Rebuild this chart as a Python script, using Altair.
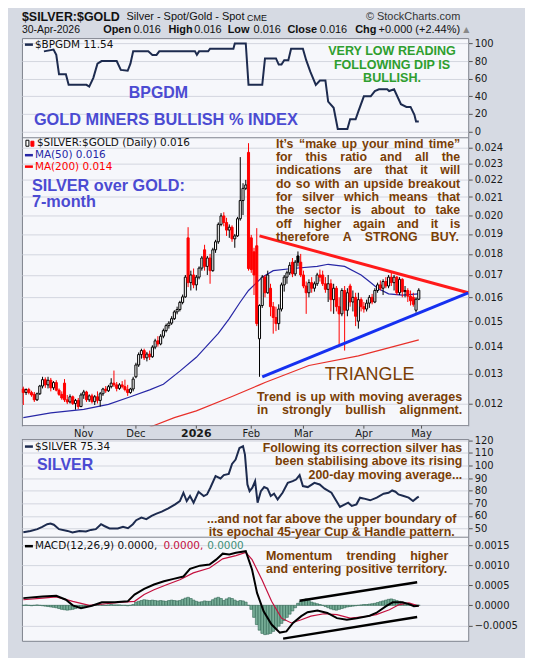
import altair as alt
import numpy as np
import pandas as pd

# ----------------------------------------------------------------- data
# x = trading-day index (1 = 1-Oct-2025 ... 145 = 30-Apr-2026)
month_ticks = [23, 42, 64, 84, 103, 125, 146]
month_labels = ["Nov", "Dec", "2026", "Feb", "Mar", "Apr", "May"]

opens = [1248e-5, 1236e-5, 1246e-5, 1236e-5, 1230e-5, 1212e-5, 1232e-5, 1258e-5, 1280e-5, 1262e-5, 1278e-5, 1252e-5, 1270e-5, 1244e-5, 1230e-5, 1268e-5, 1212e-5, 1205e-5, 1222e-5, 1200e-5, 1210e-5, 1190e-5,
         1228e-5, 1238e-5, 1212e-5, 1225e-5, 1206e-5, 1222e-5, 1210e-5, 1232e-5, 1248e-5, 1242e-5, 1256e-5, 1268e-5, 1262e-5, 1250e-5, 1262e-5, 1256e-5, 1246e-5, 1236e-5, 1248e-5,
         1290e-5, 1332e-5, 1370e-5, 1385e-5, 1358e-5, 1372e-5, 1362e-5, 1398e-5, 1422e-5, 1410e-5, 1440e-5, 1462e-5, 1482e-5, 1492e-5, 1510e-5, 1538e-5, 1548e-5, 1578e-5, 1602e-5, 1880e-5, 1665e-5, 1700e-5,
         1655e-5, 1690e-5, 1732e-5, 1820e-5, 1740e-5, 1780e-5, 1720e-5, 1820e-5, 1860e-5, 1950e-5, 1995e-5, 1960e-5, 1920e-5, 1935e-5, 1875e-5, 1890e-5, 1980e-5, 2080e-5, 2150e-5, 2370e-5,
         1880e-5, 1810e-5, 1840e-5, 1430e-5, 1565e-5, 1690e-5, 1620e-5, 1640e-5, 1560e-5, 1515e-5, 1490e-5, 1550e-5, 1655e-5, 1690e-5, 1710e-5, 1760e-5, 1705e-5, 1790e-5, 1760e-5,
         1700e-5, 1650e-5, 1620e-5, 1665e-5, 1640e-5, 1660e-5, 1700e-5, 1700e-5, 1660e-5, 1635e-5, 1660e-5, 1590e-5, 1640e-5, 1560e-5, 1530e-5, 1630e-5, 1545e-5, 1650e-5, 1580e-5, 1600e-5, 1500e-5, 1590e-5,
         1560e-5, 1550e-5, 1575e-5, 1600e-5, 1580e-5, 1630e-5, 1655e-5, 1640e-5, 1670e-5, 1650e-5, 1690e-5, 1665e-5, 1690e-5, 1620e-5, 1680e-5, 1625e-5, 1630e-5, 1605e-5, 1600e-5, 1545e-5, 1592e-5]
highs = [1256e-5, 1250e-5, 1252e-5, 1242e-5, 1238e-5, 1236e-5, 1262e-5, 1290e-5, 1288e-5, 1290e-5, 1286e-5, 1275e-5, 1278e-5, 1250e-5, 1240e-5, 1282e-5, 1228e-5, 1230e-5, 1226e-5, 1215e-5, 1218e-5, 1235e-5,
         1245e-5, 1242e-5, 1230e-5, 1232e-5, 1228e-5, 1240e-5, 1238e-5, 1252e-5, 1258e-5, 1262e-5, 1285e-5, 1312e-5, 1272e-5, 1268e-5, 1275e-5, 1280e-5, 1262e-5, 1252e-5, 1290e-5,
         1340e-5, 1378e-5, 1392e-5, 1392e-5, 1380e-5, 1385e-5, 1405e-5, 1430e-5, 1440e-5, 1448e-5, 1470e-5, 1490e-5, 1500e-5, 1520e-5, 1545e-5, 1560e-5, 1585e-5, 1612e-5, 1700e-5, 1935e-5, 1720e-5, 1730e-5,
         1700e-5, 1740e-5, 1790e-5, 1845e-5, 1790e-5, 1800e-5, 1830e-5, 1870e-5, 1960e-5, 2010e-5, 2015e-5, 1985e-5, 1950e-5, 1945e-5, 1900e-5, 1990e-5, 2340e-5, 2180e-5, 2200e-5, 2430e-5,
         1895e-5, 1830e-5, 1930e-5, 1570e-5, 1700e-5, 1700e-5, 1720e-5, 1660e-5, 1580e-5, 1560e-5, 1570e-5, 1665e-5, 1700e-5, 1720e-5, 1760e-5, 1780e-5, 1770e-5, 1812e-5, 1800e-5,
         1720e-5, 1670e-5, 1680e-5, 1690e-5, 1670e-5, 1710e-5, 1725e-5, 1720e-5, 1690e-5, 1700e-5, 1680e-5, 1660e-5, 1650e-5, 1600e-5, 1640e-5, 1650e-5, 1640e-5, 1660e-5, 1630e-5, 1620e-5, 1620e-5, 1600e-5,
         1580e-5, 1590e-5, 1610e-5, 1615e-5, 1640e-5, 1665e-5, 1675e-5, 1680e-5, 1690e-5, 1700e-5, 1712e-5, 1700e-5, 1695e-5, 1690e-5, 1685e-5, 1650e-5, 1640e-5, 1630e-5, 1620e-5, 1600e-5, 1640e-5]
lows = [1195e-5, 1228e-5, 1230e-5, 1222e-5, 1205e-5, 1208e-5, 1228e-5, 1250e-5, 1252e-5, 1250e-5, 1240e-5, 1245e-5, 1240e-5, 1225e-5, 1212e-5, 1205e-5, 1198e-5, 1200e-5, 1195e-5, 1180e-5, 1182e-5, 1188e-5,
        1215e-5, 1205e-5, 1205e-5, 1200e-5, 1195e-5, 1200e-5, 1190e-5, 1225e-5, 1235e-5, 1238e-5, 1250e-5, 1255e-5, 1240e-5, 1245e-5, 1250e-5, 1240e-5, 1225e-5, 1232e-5, 1240e-5,
        1285e-5, 1325e-5, 1355e-5, 1350e-5, 1345e-5, 1350e-5, 1358e-5, 1390e-5, 1400e-5, 1405e-5, 1432e-5, 1455e-5, 1470e-5, 1485e-5, 1505e-5, 1528e-5, 1540e-5, 1570e-5, 1598e-5, 1645e-5, 1630e-5, 1640e-5,
        1630e-5, 1680e-5, 1720e-5, 1720e-5, 1700e-5, 1660e-5, 1715e-5, 1805e-5, 1850e-5, 1940e-5, 1940e-5, 1890e-5, 1880e-5, 1860e-5, 1830e-5, 1885e-5, 1970e-5, 2000e-5, 2140e-5, 1720e-5,
        1710e-5, 1610e-5, 1480e-5, 1290e-5, 1555e-5, 1600e-5, 1615e-5, 1520e-5, 1450e-5, 1460e-5, 1465e-5, 1540e-5, 1625e-5, 1660e-5, 1700e-5, 1690e-5, 1695e-5, 1740e-5, 1690e-5,
        1640e-5, 1530e-5, 1600e-5, 1620e-5, 1625e-5, 1650e-5, 1670e-5, 1650e-5, 1620e-5, 1580e-5, 1540e-5, 1530e-5, 1540e-5, 1404e-5, 1520e-5, 1385e-5, 1520e-5, 1560e-5, 1540e-5, 1480e-5, 1470e-5, 1540e-5,
        1535e-5, 1540e-5, 1555e-5, 1570e-5, 1575e-5, 1620e-5, 1630e-5, 1610e-5, 1640e-5, 1640e-5, 1650e-5, 1630e-5, 1610e-5, 1610e-5, 1600e-5, 1600e-5, 1580e-5, 1565e-5, 1560e-5, 1535e-5, 1588e-5]
closes = [1236e-5, 1246e-5, 1236e-5, 1228e-5, 1212e-5, 1232e-5, 1258e-5, 1280e-5, 1262e-5, 1278e-5, 1252e-5, 1270e-5, 1244e-5, 1230e-5, 1218e-5, 1212e-5, 1205e-5, 1222e-5, 1200e-5, 1210e-5, 1190e-5, 1228e-5,
          1238e-5, 1212e-5, 1225e-5, 1206e-5, 1222e-5, 1210e-5, 1232e-5, 1248e-5, 1242e-5, 1256e-5, 1268e-5, 1262e-5, 1250e-5, 1262e-5, 1256e-5, 1246e-5, 1236e-5, 1248e-5, 1282e-5,
          1332e-5, 1370e-5, 1385e-5, 1358e-5, 1372e-5, 1362e-5, 1398e-5, 1422e-5, 1410e-5, 1440e-5, 1462e-5, 1482e-5, 1492e-5, 1510e-5, 1538e-5, 1548e-5, 1578e-5, 1602e-5, 1690e-5, 1665e-5, 1700e-5, 1655e-5,
          1690e-5, 1732e-5, 1780e-5, 1740e-5, 1780e-5, 1720e-5, 1820e-5, 1860e-5, 1950e-5, 1995e-5, 1960e-5, 1920e-5, 1935e-5, 1875e-5, 1890e-5, 1980e-5, 2080e-5, 2150e-5, 2170e-5, 1730e-5,
          1725e-5, 1700e-5, 1490e-5, 1565e-5, 1690e-5, 1620e-5, 1700e-5, 1560e-5, 1515e-5, 1490e-5, 1550e-5, 1655e-5, 1690e-5, 1710e-5, 1745e-5, 1705e-5, 1760e-5, 1760e-5, 1700e-5,
          1650e-5, 1620e-5, 1665e-5, 1640e-5, 1660e-5, 1700e-5, 1690e-5, 1660e-5, 1635e-5, 1660e-5, 1590e-5, 1640e-5, 1560e-5, 1530e-5, 1630e-5, 1545e-5, 1620e-5, 1580e-5, 1600e-5, 1520e-5, 1590e-5, 1560e-5,
          1550e-5, 1575e-5, 1600e-5, 1580e-5, 1630e-5, 1655e-5, 1640e-5, 1670e-5, 1650e-5, 1690e-5, 1665e-5, 1690e-5, 1620e-5, 1680e-5, 1625e-5, 1630e-5, 1605e-5, 1585e-5, 1570e-5, 1592e-5, 1631e-5]

ma50_day = [1, 11, 23, 32, 40, 47, 52, 58, 64, 72, 76, 80, 83, 88, 92, 99, 108, 112, 118, 124, 127, 130, 134, 139, 145]
ma50_val = [0.01155, 0.0117, 0.01181, 0.01197, 0.01222, 0.01245, 0.01264, 0.0131, 0.0136, 0.01451, 0.0151, 0.0158, 0.0163,
            0.0169, 0.0172, 0.0173, 0.0174, 0.0175, 0.0174, 0.0170, 0.0167, 0.0164, 0.01615, 0.0161, 0.01615]
ma200_day = [47, 56, 64, 77, 87, 89, 105, 123, 145]
ma200_val = [0.01125, 0.01155, 0.01176, 0.01223, 0.01262, 0.0127, 0.0133, 0.01365, 0.01426]

tri_up_day = [87, 163]
tri_up_val = [0.0189, 0.0162]
tri_lo_day = [88, 163]
tri_lo_val = [0.0129, 0.0162]

bp_day = [8.5, 12, 13, 14, 16.5, 17.5, 24, 25, 26.5, 28, 29.5, 35, 36.5, 39, 40, 41, 46.5, 48, 49.5, 50.5, 63.5, 64.2, 65, 68.3, 69,
          77.5, 78, 82, 83, 88, 89, 93, 94, 95, 96, 97.5, 98.5, 102.8, 104, 105.5, 107.5, 109, 111, 112, 114, 115.5, 119, 120,
          122, 123, 125, 127.5, 129, 130.5, 133.5, 134.2, 136, 138.5, 140.5, 142, 143.4, 144, 145]
bp_val = [91, 93, 87, 65, 65, 53, 53, 51, 61, 77, 80, 80, 70, 69, 77, 91, 91, 87, 87, 91, 91, 87, 91, 91, 94, 94, 100, 100, 53,
          53, 83, 83, 76, 76, 81, 81, 94, 94, 81, 68, 53, 58, 58, 34, 27, 3, 3, 14, 14, 23, 40, 40, 46, 48, 48, 46, 48, 31, 28,
          28, 19, 11.54, 11.54]

sv_day = [1, 3.6, 6.1, 7.9, 9.7, 10.9, 12.1, 14.0, 17.1, 18.9, 21.4, 23.8, 25.6, 27.4, 29.3, 30.5, 32.4, 35.4, 37.3, 39.1,
          40.9, 42.1, 44.0, 45.8, 47.7, 49.5, 51.4, 53.8, 56.3, 58.0, 59.3, 60.5, 61.7, 63.0, 64.8, 66.7, 67.9, 69.1, 71.0, 72.8,
          74.0, 75.8, 77.0, 78.3, 79.7, 81.0, 81.7, 82.6, 83.4, 84.4, 85.4, 86.3, 87.5, 88.7, 89.9, 91.1, 92.3, 93.6, 95.4, 97.3,
          99.1, 100.3, 101.6, 102.8, 104.6, 107.0, 108.9, 110.7, 113.2, 115.0, 116.3, 118.1, 119.3, 120.6, 122.3, 123.6, 124.8,
          127.3, 129.7, 132.2, 134.0, 135.3, 136.5, 137.6, 139.5, 141.3, 142.9, 144.4, 145]
sv_val = [47, 48, 49.5, 51.3, 53.4, 54, 53, 49.5, 48.1, 46.8, 48, 47.6, 48.9, 49.5, 53.4, 52, 50, 50, 51.3, 50.2,
          53.4, 56.6, 58.7, 57.4, 60, 61.8, 63.4, 66, 69.2, 71.8, 78.4, 71.8, 75.8, 70.5, 79.2, 75.8, 77.1, 82.4, 91.6, 89.7,
          92.4, 93.4, 101.3, 104.7, 113.9, 115.3, 108.7, 85, 79.7, 82.4, 87.6, 70.5, 79.7, 82.9, 81.8, 75.8, 77.6, 73.1, 78.4, 86.3,
          87.6, 88.9, 92.4, 83.7, 82.9, 86.3, 85, 81.6, 78.4, 71.8, 67.1, 69.2, 70.5, 67.9, 69.2, 74.5, 73.9, 72.4, 74.5, 77.6,
          78.4, 80.2, 79.2, 77.1, 75.8, 74.5, 71.8, 74.5, 75.34]

macd_day = [1, 8, 13, 16.5, 19, 22, 26, 29.6, 34.3, 39, 41.5, 45, 48.6, 52.2, 55.7, 59.3, 61.7, 65.3, 68.8, 71.2, 73.6, 76, 78.4,
            82, 84.3, 86.1, 88.5, 91.4, 94.4, 96.8, 99.2, 102.2, 104.5, 108.1, 111.7, 115.2, 118.8, 122.4, 127.1, 129.5, 133.1,
            135.5, 139, 141.4, 143.2, 145]
macd_val = [18e-5, 22e-5, 24e-5, 14e-5, 0, -7e-5, -1e-5, 7.5e-5, 8e-5, 10e-5, 27e-5, 41e-5, 52e-5, 60e-5, 66e-5, 72e-5, 91e-5,
            99e-5, 102e-5, 114e-5, 129e-5, 127e-5, 131e-5, 135e-5, 89e-5, 31e-5, -15e-5, -48e-5, -68e-5, -65e-5, -44e-5, -27e-5,
            -17e-5, -13e-5, -19e-5, -32e-5, -36e-5, -32e-5, -26e-5, -19e-5, -2e-5, 7.5e-5, 7.5e-5, 3e-5, -2e-5, -1e-5]
sig_day = [1, 8, 13, 19, 25, 31, 37, 41.5, 45, 48.6, 53.4, 58, 62.9, 68.8, 73.6, 78.4, 82, 84.3, 87.9, 91.4, 95, 98.6, 102.2,
           105.7, 110.5, 115.2, 120, 124.8, 129.5, 134.3, 137.9, 141.4, 145]
sig_val = [14e-5, 18e-5, 21e-5, 10e-5, 0, 4e-5, 8e-5, 10e-5, 27e-5, 39e-5, 52e-5, 64e-5, 81e-5, 93e-5, 116e-5, 124e-5, 132e-5,
           114e-5, 64e-5, 10e-5, -32e-5, -44e-5, -36e-5, -27e-5, -21e-5, -23e-5, -32e-5, -29e-5, -23e-5, -11e-5, 2e-5, 6e-5, -2e-5]
hist_val = [0, 1e-5, 0, -1e-5, 0, 1e-5, 0, -1e-5,
            -2e-5, -3e-5, -4e-5, -5e-5, -6e-5,
            -8e-5, -10e-5, -11e-5, -12e-5, -11e-5, -10e-5, -8e-5,
            -6e-5, -4e-5, -3e-5, -2e-5, -1e-5, 0,
            1e-5, 1e-5, 2e-5, 1e-5, 0, 1e-5, 2e-5, 1e-5, 1e-5,
            1e-5, 0, 0, -1e-5, 0, 2e-5,
            8e-5, 10e-5, 12e-5, 14e-5, 13e-5, 12e-5, 13e-5, 12e-5, 11e-5,
            12e-5, 11e-5, 10e-5, 12e-5, 13e-5, 12e-5, 11e-5, 12e-5,
            15e-5, 18e-5, 20e-5, 17e-5,
            13e-5, 10e-5, 8e-5, 9e-5, 11e-5, 10e-5,
            10e-5, 14e-5, 18e-5, 20e-5, 17e-5, 12e-5,
            16e-5, 19e-5, 17e-5, 13e-5, 10e-5, 12e-5, 11e-5,
            8e-5, 0,
            -10e-5, -30e-5, -48e-5, -62e-5, -70e-5, -73e-5, -72e-5, -70e-5, -65e-5, -58e-5, -52e-5, -45e-5, -38e-5, -30e-5,
            -22e-5, -14e-5, -6e-5,
            5e-5, 10e-5, 14e-5, 16e-5, 12e-5, 8e-5, 6e-5, 4e-5, 2e-5, 0,
            -3e-5, -6e-5, -9e-5, -11e-5, -12e-5, -10e-5, -8e-5, -6e-5, -4e-5, -3e-5, -2e-5, -1e-5, 0,
            1e-5, 2e-5, 2e-5, 3e-5, 4e-5, 5e-5, 7e-5, 9e-5, 11e-5, 13e-5, 15e-5, 16e-5, 14e-5, 12e-5, 10e-5, 8e-5, 6e-5, 4e-5,
            3e-5, 2e-5, 1e-5, 0]
macd_up_day = [101.6, 144.4]
macd_up_val = [11.7e-5, 57.5e-5]
macd_lo_day = [95.6, 144.4]
macd_lo_val = [-83e-5, -29e-5]

# ----------------------------------------------------------------- style / layout
SANS = "Liberation Sans"
VERD = "DejaVu Sans"
BG = "#d6dae3"
PLOT_BG = "#f6f7fb"
GRID = "#d3d6df"
BORDER = "#7e838d"
RED = "#ff0000"
NAVY = "#1d2b4f"
MA50_C = "#2727a6"
BLUE_TXT = "#4b4bd2"
BROWN = "#7a3e05"
GREEN = "#2e9e2e"
SIG_C = "#c4103e"
TEAL = "#3f8f78"
HIST_FILL = "#78ae98"
HIST_STROKE = "#2f6552"

W = 448
# pixel rows of the stacked panels inside one 605-px-high view
TOP0, TOP1 = 0, 100        # BPGDM
MAIN0, MAIN1 = 100, 389    # SILVER:GOLD candles
SIL0, SIL1 = 403, 501      # SILVER
MAC0, MAC1 = 501, 605      # MACD
H = MAC1

x_scale = alt.Scale(domain=[0.5, 163], nice=False, zero=False)
grid_test = "datum.value == 64 || datum.value == 125"
label_expr = f"{month_labels}[indexof({month_ticks}, datum.value)]"
x_axis_lab = alt.Axis(values=month_ticks, labelExpr=label_expr, grid=True,
                      gridOpacity={"condition": {"test": grid_test, "value": 1}, "value": 0},
                      labelFontWeight={"condition": {"test": "datum.value == 64", "value": "bold"}, "value": "normal"},
                      labelFontSize={"condition": {"test": "datum.value == 64", "value": 11}, "value": 10},
                      tickSize=3, labelPadding=0, domain=False, labelFlush=False, orient="bottom")

ONE = pd.DataFrame({"k": [0]})

# Arial-Bold (= Liberation Sans Bold) advance widths, 1/1000 em, used to justify the notes
_AW = {" ": 278, "!": 333, "'": 238, "(": 333, ")": 333, ",": 278, "-": 333, ".": 278, "/": 278, ":": 333,
       "&": 722, "%": 889, "\u2019": 278, "\u201c": 500, "\u201d": 500}
_AW.update({d: 556 for d in "0123456789"})
_AW.update(dict(zip("ABCDEFGHIJKLMNOPQRSTUVWXYZ",
                    [722, 722, 722, 722, 667, 611, 778, 722, 278, 556, 722, 611, 833, 722, 778, 667, 778, 722, 667, 611,
                     722, 667, 944, 667, 667, 611])))
_AW.update(dict(zip("abcdefghijklmnopqrstuvwxyz",
                    [556, 611, 556, 611, 556, 333, 611, 611, 278, 278, 556, 278, 889, 611, 611, 611, 611, 389, 556, 333,
                     611, 556, 778, 556, 556, 500])))


def txt(text, x, y, size=11, color="#111111", weight="normal", align="left", font=VERD):
    return alt.Chart(ONE).mark_text(text=text, align=align, baseline="middle", fontSize=size,
                                    fontWeight=weight, font=font, color=color).encode(
        x=alt.value(x), y=alt.value(y))


def lines(texts, x, y0, dy, size, color, weight="bold", align="center", font=SANS):
    return [txt(t, x, y0 + k * dy, size, color, weight, align, font) for k, t in enumerate(texts)]


def justified(texts, x0, x1, y0, dy, size, color):
    """Bold note whose lines are justified over [x0, x1] (word spacing), like the original annotation."""
    rows = []
    for j, line in enumerate(texts):
        words = line.split(" ")
        widths = [sum(_AW.get(c, 556) for c in w) * size / 1000 for w in words]
        gap = (x1 - x0 - sum(widths)) / max(len(words) - 1, 1)
        pos = x0
        for w, wd in zip(words, widths):
            rows.append({"word": w, "px": pos, "py": y0 + j * dy})
            pos += wd + gap
    return alt.Chart(pd.DataFrame(rows)).mark_text(
        align="left", baseline="middle", font=SANS, fontWeight="bold", fontSize=size, color=color).encode(
        x=alt.X("px:Q", scale=None), y=alt.Y("py:Q", scale=None), text="word:N")


def dash(x, y, color, w=2.5):
    return alt.Chart(ONE).mark_rule(color=color, strokeWidth=w).encode(
        x=alt.value(x), x2=alt.value(x + 8), y=alt.value(y))


def hline(y):
    return alt.Chart(ONE).mark_rule(color=BORDER, strokeWidth=1).encode(
        x=alt.value(0), x2=alt.value(W), y=alt.value(y))


def icon_box(x, y, w, h, fill, stroke):
    return alt.Chart(ONE).mark_rect(fill=fill, stroke=stroke, strokeWidth=1).encode(
        x=alt.value(x), x2=alt.value(x + w), y=alt.value(y), y2=alt.value(y + h))


def yaxis(values, fmt):
    return alt.Axis(orient="right", values=values, format=fmt, grid=True, tickSize=4, labelPadding=2,
                    domain=False, labelFlush=False, labelOverlap=False)


def xn(field):
    return alt.X(f"{field}:Q", scale=x_scale, axis=None, title=None)


# ----------------------------------------------------------------- BPGDM
y_bp = alt.Y("v:Q", scale=alt.Scale(domain=[-7, 106], nice=False, zero=False, range=[TOP1, TOP0]),
             axis=yaxis([0, 20, 40, 60, 80, 100], "d"), title=None)
bp_layer = alt.layer(alt.Chart(pd.DataFrame({"day": bp_day, "v": bp_val})).mark_line(
    color=NAVY, strokeWidth=2).encode(x=xn("day"), y=y_bp))

# ----------------------------------------------------------------- SILVER:GOLD candles
cdf = pd.DataFrame({"day": list(range(1, len(closes) + 1)), "open": opens, "high": highs, "low": lows, "close": closes})
prev = cdf["close"].shift(1).fillna(cdf["open"])
cdf["col"] = np.where(cdf["close"] < prev, RED, "#000000")
cdf["fillc"] = np.where(cdf["close"] < cdf["open"], cdf["col"], "#ffffff")
cdf["lo"] = cdf[["open", "close"]].min(axis=1)
cdf["hi"] = cdf[["open", "close"]].max(axis=1)
cdf["x0"] = cdf["day"] - 0.38
cdf["x1"] = cdf["day"] + 0.38

y_scale_main = alt.Scale(type="log", domain=[0.0113, 0.02466], nice=False, zero=False, range=[MAIN1, MAIN0])
ax_main = yaxis([0.012, 0.013, 0.014, 0.015, 0.016, 0.017, 0.018, 0.019, 0.020, 0.021, 0.022, 0.023, 0.024], ".3f")


def ym(field):
    return alt.Y(f"{field}:Q", scale=y_scale_main, axis=ax_main, title=None)


main_layer = alt.layer(
    alt.Chart(pd.DataFrame({"day": ma200_day, "v": ma200_val})).mark_line(
        color="#e8302a", strokeWidth=1.2, clip=True).encode(x=xn("day"), y=ym("v")),
    alt.Chart(pd.DataFrame({"day": ma50_day, "v": ma50_val})).mark_line(
        color=MA50_C, strokeWidth=1.2).encode(x=xn("day"), y=ym("v")),
    alt.Chart(cdf).mark_rule(strokeWidth=1).encode(
        x=xn("day"), y=ym("low"), y2="high:Q", color=alt.Color("col:N", scale=None)),
    alt.Chart(cdf).mark_rect(strokeWidth=1).encode(
        x=xn("x0"), x2="x1:Q", y=ym("lo"), y2="hi:Q",
        fill=alt.Fill("fillc:N", scale=None), stroke=alt.Stroke("col:N", scale=None)),
    alt.Chart(pd.DataFrame({"day": tri_up_day, "v": tri_up_val})).mark_line(
        color="#ff1a1a", strokeWidth=3).encode(x=xn("day"), y=ym("v")),
    alt.Chart(pd.DataFrame({"day": tri_lo_day, "v": tri_lo_val})).mark_line(
        color="#1530f0", strokeWidth=3).encode(x=xn("day"), y=ym("v")),
)

# ----------------------------------------------------------------- SILVER
y_sv = alt.Y("v:Q", scale=alt.Scale(domain=[43.1, 120.6], nice=False, zero=False, range=[SIL1, SIL0]),
             axis=yaxis([50, 60, 70, 80, 90, 100, 110, 120], "d"), title=None)
silver_layer = alt.layer(alt.Chart(pd.DataFrame({"day": sv_day, "v": sv_val})).mark_line(
    color=NAVY, strokeWidth=2).encode(x=xn("day"), y=y_sv))

# ----------------------------------------------------------------- MACD (carries the bottom date axis)
hdf = pd.DataFrame({"day": list(range(1, len(hist_val) + 1)), "h": hist_val})
hdf["x0"] = hdf["day"] - 0.5
hdf["x1"] = hdf["day"] + 0.5
y_macd_scale = alt.Scale(domain=[-0.000885, 0.0017], nice=False, zero=False, range=[MAC1, MAC0])
ax_macd = yaxis([-0.0005, 0.0, 0.0005, 0.0010, 0.0015], ".4f")


def yq(field):
    return alt.Y(f"{field}:Q", scale=y_macd_scale, axis=ax_macd, title=None)


def xq(field):
    return alt.X(f"{field}:Q", scale=x_scale, axis=x_axis_lab, title=None)


macd_layer = alt.layer(
    alt.Chart(hdf).mark_rect(fill=HIST_FILL, stroke=HIST_STROKE, strokeWidth=0.6).encode(
        x=xq("x0"), x2="x1:Q", y=yq("h"), y2=alt.datum(0)),
    alt.Chart(pd.DataFrame({"day": sig_day, "v": sig_val})).mark_line(
        color=SIG_C, strokeWidth=1.2).encode(x=xq("day"), y=yq("v")),
    alt.Chart(pd.DataFrame({"day": macd_day, "v": macd_val})).mark_line(
        color="#000000", strokeWidth=2).encode(x=xq("day"), y=yq("v")),
    alt.Chart(pd.DataFrame({"day": macd_up_day, "v": macd_up_val})).mark_line(
        color="#000000", strokeWidth=2.5).encode(x=xq("day"), y=yq("v")),
    alt.Chart(pd.DataFrame({"day": macd_lo_day, "v": macd_lo_val})).mark_line(
        color="#000000", strokeWidth=2.5).encode(x=xq("day"), y=yq("v")),
)

# ----------------------------------------------------------------- gap band with the candle panel's date labels
gap = alt.Chart(ONE).mark_rect(fill=BG, strokeWidth=0).encode(
    x=alt.value(-2), x2=alt.value(W + 2), y=alt.value(MAIN1 + 0.5), y2=alt.value(SIL0 - 0.5))
mdf = pd.DataFrame({"day": month_ticks, "lab": month_labels})
gap_ticks = alt.Chart(mdf).mark_rule(color="#555555", strokeWidth=1).encode(
    x=xn("day"), y=alt.value(MAIN1), y2=alt.value(MAIN1 + 3))
gap_labels = alt.Chart(mdf).transform_filter("datum.lab != '2026'").mark_text(
    font=VERD, fontSize=10, color="#1a1a1a", baseline="middle").encode(x=xn("day"), y=alt.value(MAIN1 + 8), text="lab:N")
gap_year = alt.Chart(mdf).transform_filter("datum.lab == '2026'").mark_text(
    font=VERD, fontSize=11, fontWeight="bold", color="#1a1a1a", baseline="middle").encode(
    x=xn("day"), y=alt.value(MAIN1 + 8), text="lab:N")

# ----------------------------------------------------------------- texts
header = [
    txt("$SILVER:$GOLD", 0, -21, 12.5, "#111111", "bold", font=SANS),
    txt("Silver - Spot/Gold - Spot", 105, -21, 11, "#111111", font=SANS),
    txt("CME", 226, -20.5, 9, "#111111", font=SANS),
    txt("\u00a9 StockCharts.com", 440, -21, 11, "#333333", align="right", font=SANS),
    txt("30-Apr-2026", 0, -8, 10.5, "#111111", font=SANS),
]
for t, xx, wgt in [("Open", 81.5, "bold"), ("0.016", 112, "normal"), ("High", 147, "bold"), ("0.016", 173, "normal"),
                   ("Low", 206.5, "bold"), ("0.016", 232.5, "normal"), ("Close", 266.5, "bold"), ("0.016", 299, "normal"),
                   ("Chg", 334.5, "bold"), ("+0.000 (+2.44%)", 358, "normal")]:
    header.append(txt(t, xx, -8, 11, "#111111", wgt, font=SANS))
header.append(txt("\u25b2", 443, -8, 8, "#888888", font=VERD))

T, S, M = MAIN0, SIL0, MAC0
notes = [
    # BPGDM panel
    dash(3, 6.5, NAVY), txt("$BPGDM 11.54", 13, 6.5, 10.5),
    txt("BPGDM", 137, 55, 16, BLUE_TXT, "bold", "center", SANS),
    txt("GOLD MINERS BULLISH % INDEX", 144.5, 82.5, 16.4, BLUE_TXT, "bold", "center", SANS),
    *lines(["VERY LOW READING", "FOLLOWING DIP IS", "BULLISH."], 371.5, 13, 13.7, 12.6, GREEN),
    # candle panel (small candlestick icon + legend)
    icon_box(4, T + 2.5, 3, 6, "#ffffff", "#000000"), icon_box(9, T + 3.5, 3, 5, RED, RED),
    txt("$SILVER:$GOLD (Daily) 0.016", 15, T + 5.5, 10.5),
    dash(3, T + 17.5, MA50_C), txt("MA(50) 0.016", 13, T + 17.5, 10.5, MA50_C),
    dash(3, T + 29, RED), txt("MA(200) 0.014", 13, T + 29, 10.5, RED),
    txt("SILVER over GOLD:", 10, T + 48, 16.3, BLUE_TXT, "bold", font=SANS),
    txt("7-month", 10, T + 65, 16.3, BLUE_TXT, "bold", font=SANS),
    justified(["It\u2019s \u201cmake up your mind time\u201d", "for this ratio and all the",
               "indications are that it will", "do so with an upside breakout",
               "for silver which means that", "the sector is about to take",
               "off higher again and it is", "therefore A STRONG BUY."], 255, 440, T + 6, 13.4, 12.4, BROWN),
    txt("TRIANGLE", 349, T + 238, 18, BROWN, "normal", "center", SANS),
    justified(["Trend is up with moving averages", "in strongly bullish alignment."], 236, 442, T + 260, 13.6, 12.6, BROWN),
    # silver panel
    dash(3, S + 7, NAVY), txt("$SILVER 75.34", 13, S + 7, 10.5),
    txt("SILVER", 15, S + 26, 16, BLUE_TXT, "bold", font=SANS),
    *lines(["Following its correction silver has", "been stabilising above its rising",
            "200-day moving average..."], 442, S + 8.5, 13.4, 12.4, BROWN, align="right"),
    *lines(["...and not far above the upper boundary of", "its epochal 45-year Cup & Handle pattern."],
           311, S + 79.5, 13.6, 12.5, BROWN),
    # MACD panel
    dash(3, M + 9, "#000000"), txt("MACD(12,26,9) 0.0000,", 13, M + 9, 10.5),
    txt("0.0000,", 142, M + 9, 10.5, SIG_C), txt("0.0000", 186, M + 9, 10.5, TEAL),
    justified(["Momentum trending higher", "and entering positive territory."], 245, 428, M + 19, 13.4, 12.5, BROWN),
]

chart = alt.layer(
    bp_layer, main_layer, silver_layer, macd_layer,
    gap, hline(TOP1), hline(MAIN1), hline(SIL0), hline(MAC0), gap_ticks, gap_labels, gap_year,
    *header, *notes,
).resolve_scale(y="independent").properties(
    width=W, height=H, background=BG,
    autosize=alt.AutoSizeParams(type="none"),
    padding={"left": 14, "top": 29, "right": 57, "bottom": 16},
).configure_view(fill=PLOT_BG, stroke=BORDER, strokeWidth=1).configure_axis(
    labelFont=VERD, labelFontSize=10, labelColor="#1a1a1a", tickColor="#555555",
    gridColor=GRID, gridWidth=1)

chart.save("out.html", embed_options={"renderer": "svg", "actions": False})
